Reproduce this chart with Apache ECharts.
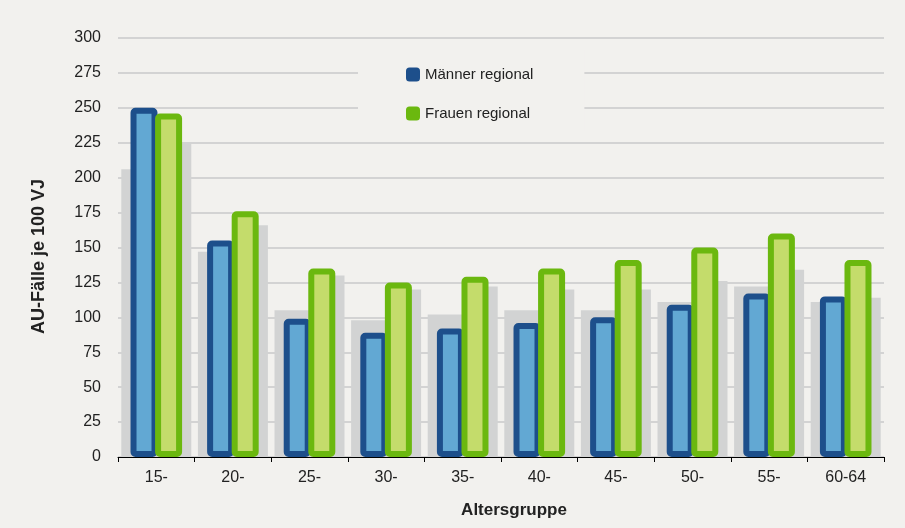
<!DOCTYPE html>
<html>
<head>
<meta charset="utf-8">
<script src="https://cdn.jsdelivr.net/npm/echarts@6/dist/echarts.min.js"></script>
<style>
html,body{margin:0;padding:0;background:#f2f1ee;}
#chart{width:905px;height:528px;}
</style>
</head>
<body>
<div id="chart"></div>
<script>
var categories = ['15-', '20-', '25-', '30-', '35-', '40-', '45-', '50-', '55-', '60-64'];
var maennerRegional = [250, 155, 99, 89, 92, 96, 100, 109, 117, 115];
var frauenRegional = [246, 176, 135, 125, 129, 135, 141, 150, 160, 141];
var maennerBund = [206, 147, 105, 98, 102, 105, 105, 111, 122, 111];
var frauenBund = [225, 166, 130, 120, 122, 120, 120, 126, 134, 114];
var yTicks = {min: 0, max: 300, interval: 25};

var FONT = '"Liberation Sans", Arial, sans-serif';
var chart = echarts.init(document.getElementById('chart'));
chart.setOption({
  backgroundColor: '#f2f1ee',
  animation: false,
  textStyle: {fontFamily: FONT},
  grid: {left: 118, right: 21, top: 38, bottom: 71},
  legend: {
    orient: 'vertical',
    left: 358, top: 50,
    padding: [17, 51, 10, 48],
    backgroundColor: '#f2f1ee',
    itemWidth: 14, itemHeight: 14, itemGap: 24,
    icon: 'roundRect',
    textStyle: {fontSize: 15, color: '#222', fontFamily: FONT},
    data: [
      {name: 'Männer regional', itemStyle: {color: '#1d4f8b', borderWidth: 0}},
      {name: 'Frauen regional', itemStyle: {color: '#6bb80f', borderWidth: 0}}
    ]
  },
  xAxis: [{
    type: 'category',
    data: categories,
    name: 'Altersgruppe',
    nameLocation: 'middle',
    nameGap: 45,
    nameTextStyle: {fontSize: 17, fontWeight: 'bold', color: '#222', padding: [0, 0, 0, 26]},
    axisLine: {lineStyle: {color: '#000', width: 1}},
    axisTick: {show: true, length: 5, lineStyle: {color: '#000'}},
    axisLabel: {fontSize: 16, color: '#222', margin: 13},
    splitLine: {show: false}
  }, {
    type: 'category',
    data: categories,
    show: false,
    position: 'bottom'
  }],
  yAxis: {
    type: 'value',
    min: yTicks.min, max: yTicks.max, interval: yTicks.interval,
    name: 'AU-Fälle je 100 VJ',
    nameLocation: 'middle',
    nameGap: 70,
    nameTextStyle: {fontSize: 18, fontWeight: 'bold', color: '#222', padding: [0, 18, 0, 0]},
    axisLine: {show: false},
    axisTick: {show: false},
    axisLabel: {fontSize: 16, color: '#222', margin: 17},
    splitLine: {lineStyle: {color: '#d3d3d3', width: 2}}
  },
  series: [
    {name: 'Männer bundesweit', type: 'bar', xAxisIndex: 1, data: maennerBund,
     barWidth: 35, barGap: '0%', z: 1, silent: true,
     itemStyle: {color: '#d2d3d3'}},
    {name: 'Frauen bundesweit', type: 'bar', xAxisIndex: 1, data: frauenBund,
     barWidth: 35, barGap: '0%', z: 1, silent: true,
     itemStyle: {color: '#d2d3d3'}},
    {name: 'Männer regional', type: 'bar', xAxisIndex: 0, data: maennerRegional,
     barWidth: 27, barGap: '-9%', z: 3,
     itemStyle: {color: '#62a8d3', borderColor: '#1d4f8b', borderWidth: 6, borderRadius: 2}},
    {name: 'Frauen regional', type: 'bar', xAxisIndex: 0, data: frauenRegional,
     barWidth: 27, barGap: '-9%', z: 4,
     itemStyle: {color: '#c4dc6b', borderColor: '#6bb80f', borderWidth: 6, borderRadius: 2}}
  ]
});
</script>
</body>
</html>
